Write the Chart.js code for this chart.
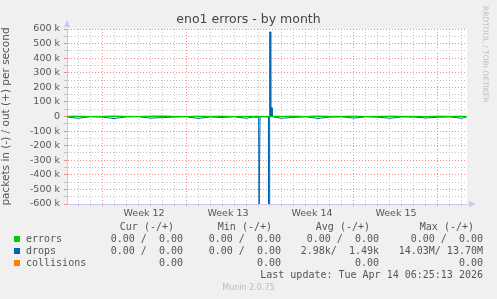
<!DOCTYPE html>
<html>
<head>
<meta charset="utf-8">
<script src="https://cdn.jsdelivr.net/npm/chart.js@4/dist/chart.umd.min.js"></script>
<style>
  body { margin: 0; background: #f0f0f0; }
  #wrap { position: relative; width: 497px; height: 299px; overflow: hidden; }
  #c { position: absolute; left: 0; top: 0; }
  .t { position: absolute; white-space: pre; color: #555; }
  .mono { font-family: "DejaVu Sans Mono", monospace; font-size: 10px; line-height: 12px; }
  .sq { position: absolute; width: 6px; height: 6px; }
</style>
</head>
<body>
<div id="wrap">
  <canvas id="c" width="497" height="299"></canvas>
  <div class="t" style="left:0;width:497px;top:11px;text-align:center;font:12.5px 'DejaVu Sans';color:#444">eno1 errors - by month</div>
  <div class="t" style="left:478px;top:6px;font:7.5px 'DejaVu Sans';color:#c0c0c0;transform-origin:0 0;transform:translate(12px,0) rotate(90deg)">RRDTOOL / TOBI OETIKER</div>
  <div id="legend"></div>
  <div class="t" style="left:0;width:497px;top:283px;text-align:center;font:8px 'DejaVu Sans';color:#bbb">Munin 2.0.75</div>
</div>
<script>
// x in days, weeks start on multiples of 7
const weekLabels = ['Week 12', 'Week 13', 'Week 14', 'Week 15'];
const xMin = 4.08, xMax = 37.42;
const yTicks = [-600000, -500000, -400000, -300000, -200000, -100000, 0, 100000, 200000, 300000, 400000, 500000, 600000];

const dropTimes = [4.1, 5, 6, 7, 8, 9, 10, 11, 12, 13, 14, 15, 16, 17, 18, 19, 19.6, 20.05, 20.09, 20.1, 20.16, 20.17, 20.5, 20.87, 20.88, 20.94, 20.95, 20.98, 20.99, 21.05, 21.06, 21.12, 21.13, 21.17, 21.18, 21.4, 22, 23, 24, 25, 26, 27, 28, 29, 30, 31, 32, 33, 34, 35, 36, 37, 37.4];
// packets/s, "in" is drawn below zero
const dropsIn = [3000, 12000, 2000, 4000, 14000, 3000, 1000, 11000, 8000, 4000, 2000, 13000, 3000, 7000, 2000, 12000, 4000, 6000, 700000, 700000, 700000, 3000, 2000, 4000, 700000, 700000, 3000, 0, 0, 0, 0, 0, 0, 0, 0, 5000, 12000, 6000, 2000, 13000, 4000, 3000, 11000, 2000, 5000, 12000, 3000, 4000, 10000, 5000, 3000, 12000, 2000];
const dropsOut = [1000, 2000, 0, 1000, 3000, 1000, 0, 2000, 3000, 1000, 0, 2000, 1000, 2000, 0, 1000, 1000, 2000, 0, 0, 0, 1000, 0, 1000, 0, 0, 0, 0, 580000, 580000, 0, 0, 60000, 60000, 0, 2000, 1000, 2000, 0, 3000, 1000, 1000, 2000, 0, 1000, 2000, 1000, 1000, 0, 2000, 1000, 2000, 0];
const errorsIn = [0, 0];
const errorsOut = [0, 0];

const legendRows = [
  { name: 'errors', color: '#00cc00', cur: '0.00 /  0.00', min: '0.00 /  0.00', avg: '0.00 /  0.00', max: '0.00 /  0.00' },
  { name: 'drops', color: '#0066b3', cur: '0.00 /  0.00', min: '0.00 /  0.00', avg: '2.98k/  1.49k', max: '14.03M/ 13.70M' },
  { name: 'collisions', color: '#ff8000', cur: '0.00', min: '0.00', avg: '0.00', max: '0.00' }
];
const lastUpdate = 'Last update: Tue Apr 14 06:25:13 2026';

const pts = (ts, vs, sign) => vs.map((v, i) => ({ x: ts[i], y: sign * v }));

const GRID = 'rgba(190,190,190,0.9)';
const MGRID = 'rgba(235,130,130,0.9)';
const AXIS = '#c8c8f0';

const arrows = {
  id: 'arrows',
  afterDraw(chart) {
    const { ctx, chartArea: a } = chart;
    ctx.save();
    ctx.fillStyle = AXIS;
    ctx.beginPath();
    ctx.moveTo(a.left - 3, a.top - 2); ctx.lineTo(a.left + 3, a.top - 2); ctx.lineTo(a.left, a.top - 9); ctx.fill();
    ctx.beginPath();
    ctx.moveTo(a.right + 2, a.bottom - 3); ctx.lineTo(a.right + 2, a.bottom + 3); ctx.lineTo(a.right + 9, a.bottom); ctx.fill();
    ctx.restore();
  }
};
const plotBg = {
  id: 'plotBg',
  beforeDraw(chart) {
    const { ctx, chartArea: a } = chart;
    ctx.save();
    ctx.fillStyle = '#fff';
    ctx.fillRect(a.left, a.top, a.right - a.left, a.bottom - a.top);
    ctx.restore();
  }
};

const line = (data, color) => ({
  data, borderColor: color, borderWidth: 1, pointRadius: 0, tension: 0, fill: false
});

new Chart(document.getElementById('c'), {
  type: 'line',
  data: {
    datasets: [
      line(pts([xMin, xMax], errorsIn, -1), '#00cc00'),
      line(pts([xMin, xMax], errorsOut, 1), '#00cc00'),
      line(pts(dropTimes, dropsIn, -1), '#0066b3'),
      line(pts(dropTimes, dropsOut, 1), '#0066b3')
    ]
  },
  plugins: [plotBg, arrows],
  options: {
    responsive: false,
    animation: false,
    layout: { padding: { top: 29, right: 30, left: 0, bottom: 0 } },
    plugins: { legend: { display: false }, tooltip: { enabled: false } },
    scales: {
      x: {
        type: 'linear', min: xMin, max: xMax,
        afterFit(s) { s.height = 95; },
        afterBuildTicks(s) {
          const t = [];
          for (let d = 5; d <= 37; d++) t.push({ value: d });
          weekLabels.forEach((w, i) => t.push({ value: 10.5 + 7 * i }));
          t.sort((a, b) => a.value - b.value);
          s.ticks = t;
        },
        ticks: {
          autoSkip: false, maxRotation: 0, padding: 1,
          color: '#555', font: { family: 'DejaVu Sans', size: 9.5 },
          callback: v => (v % 1 === 0.5 ? weekLabels[(v - 10.5) / 7] : '')
        },
        grid: {
          color: c => (c.tick && c.tick.value % 1 !== 0 ? 'rgba(0,0,0,0)' : (c.tick && c.tick.value % 7 === 0 ? MGRID : GRID)),
          tickLength: 3, tickBorderDash: [1, 2]
        },
        border: { color: AXIS, dash: [1, 2] }
      },
      y: {
        min: -600000, max: 600000,
        afterFit(s) { s.width = 67; },
        afterBuildTicks(s) {
          const t = [];
          for (let v = -600000; v <= 600000; v += 50000) t.push({ value: v });
          s.ticks = t;
        },
        ticks: {
          autoSkip: false, padding: 4,
          color: '#555', font: { family: 'DejaVu Sans', size: 9.5 },
          callback: v => (yTicks.includes(v) ? (v === 0 ? '0' : v / 1000 + ' k') : '')
        },
        grid: {
          color: c => (c.tick && c.tick.value % 100000 === 0 ? MGRID : GRID),
          tickLength: 3
        },
        border: { color: AXIS, dash: [1, 2] },
        title: {
          display: true, text: 'packets in (-) / out (+) per second',
          color: '#555', font: { family: 'DejaVu Sans', size: 10.5 }, padding: 0
        }
      }
    }
  }
});

// legend table
const lg = document.getElementById('legend');
const cols = [['Cur (-/+)', 'cur', 183], ['Min (-/+)', 'min', 281], ['Avg (-/+)', 'avg', 379], ['Max (-/+)', 'max', 483]];
let html = '';
cols.forEach(([h, k, r]) => {
  html += `<div class="t mono" style="right:${497 - r + 9}px;top:221px">${h}</div>`;
});
legendRows.forEach((row, i) => {
  const y = 233 + i * 12;
  html += `<div class="sq" style="left:14px;top:${y + 3}px;background:${row.color}"></div>`;
  html += `<div class="t mono" style="left:26px;top:${y}px">${row.name}</div>`;
  cols.forEach(([h, k, r]) => {
    html += `<div class="t mono" style="right:${497 - r}px;top:${y}px">${row[k]}</div>`;
  });
});
html += `<div class="t mono" style="right:14px;top:269px">${lastUpdate}</div>`;
lg.innerHTML = html;
</script>
</body>
</html>
